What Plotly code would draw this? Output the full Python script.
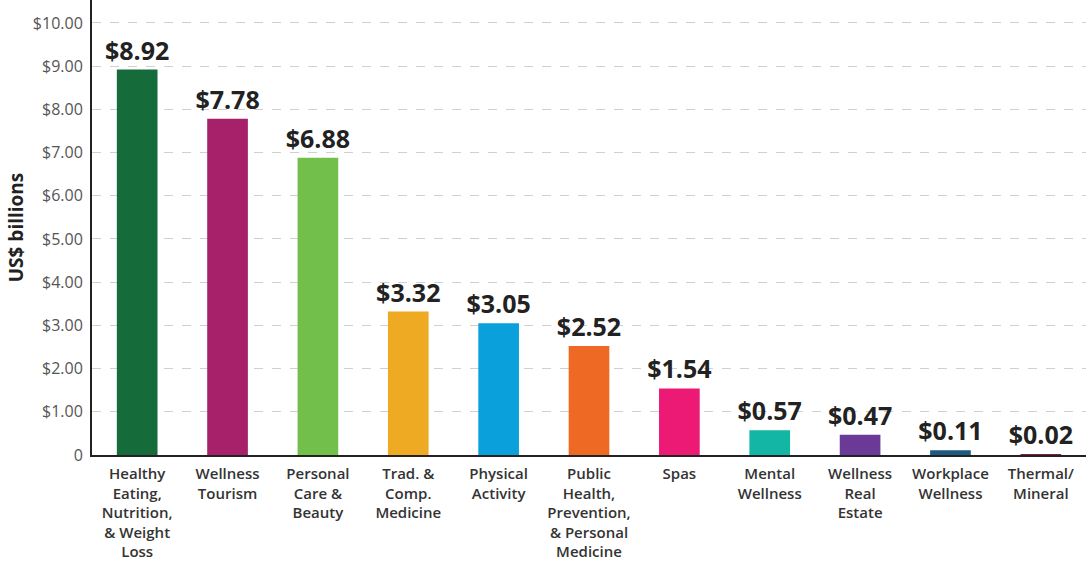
import plotly.graph_objects as go

categories = [
    "Healthy<br>Eating,<br>Nutrition,<br>& Weight<br>Loss",
    "Wellness<br>Tourism",
    "Personal<br>Care &<br>Beauty",
    "Trad. &<br>Comp.<br>Medicine",
    "Physical<br>Activity",
    "Public<br>Health,<br>Prevention,<br>& Personal<br>Medicine",
    "Spas",
    "Mental<br>Wellness",
    "Wellness<br>Real<br>Estate",
    "Workplace<br>Wellness",
    "Thermal/<br>Mineral",
]
values = [8.92, 7.78, 6.88, 3.32, 3.05, 2.52, 1.54, 0.57, 0.47, 0.11, 0.02]
colors = ["#166B3A", "#A6206A", "#72BF4B", "#EEAA22", "#0AA0DC", "#EE6A24",
          "#EC1A74", "#13B5A5", "#6A3A96", "#1D5A80", "#8B1A4A"]
tick_vals = [0, 1, 2, 3, 4, 5, 6, 7, 8, 9, 10]
tick_text = ["0", "$1.00", "$2.00", "$3.00", "$4.00", "$5.00", "$6.00",
             "$7.00", "$8.00", "$9.00", "$10.00"]

labels = [f"<b>${v:.2f}</b>" for v in values]

fig = go.Figure(go.Bar(
    x=list(range(len(categories))),
    y=values,
    marker=dict(color=colors, line=dict(width=0)),
    width=0.45,
    text=labels,
    textposition="outside",
    constraintext="none",
    textfont=dict(family="Open Sans", size=25, color="#222222"),
    cliponaxis=False,
))

fig.update_layout(
    width=1086, height=563,
    margin=dict(l=92, r=0, t=0, b=108),
    paper_bgcolor="white", plot_bgcolor="white",
    showlegend=False,
    font=dict(family="Open Sans", color="#333333"),
    xaxis=dict(
        range=[-0.5, 10.5],
        tickmode="array",
        tickvals=list(range(len(categories))),
        ticktext=categories,
        tickfont=dict(family="Open Sans", size=15, color="#333333", weight=600),
        showgrid=False,
        showline=True, linecolor="#222222", linewidth=2,
        ticks="outside", ticklen=4, tickcolor="rgba(0,0,0,0)",
        zeroline=False,
        automargin=False,
        fixedrange=True,
    ),
    yaxis=dict(
        range=[0, 10.53],
        tickmode="array",
        tickvals=tick_vals,
        ticktext=tick_text,
        tickfont=dict(family="Open Sans", size=16, color="#555555"),
        showgrid=True, gridcolor="#D0D0D0", griddash="dash", gridwidth=1,
        showline=True, linecolor="#222222", linewidth=2,
        ticks="outside", ticklen=4, tickcolor="rgba(0,0,0,0)",
        zeroline=False,
        automargin=False,
        title=dict(text="<b>US$ billions</b>",
                   font=dict(family="Open Sans", size=19, color="#222222"),
                   standoff=4),
    ),
)

fig.write_html("out.html",
               config={"displayModeBar": False},
               post_script="document.body.style.margin='0';document.body.style.overflow='hidden';")
